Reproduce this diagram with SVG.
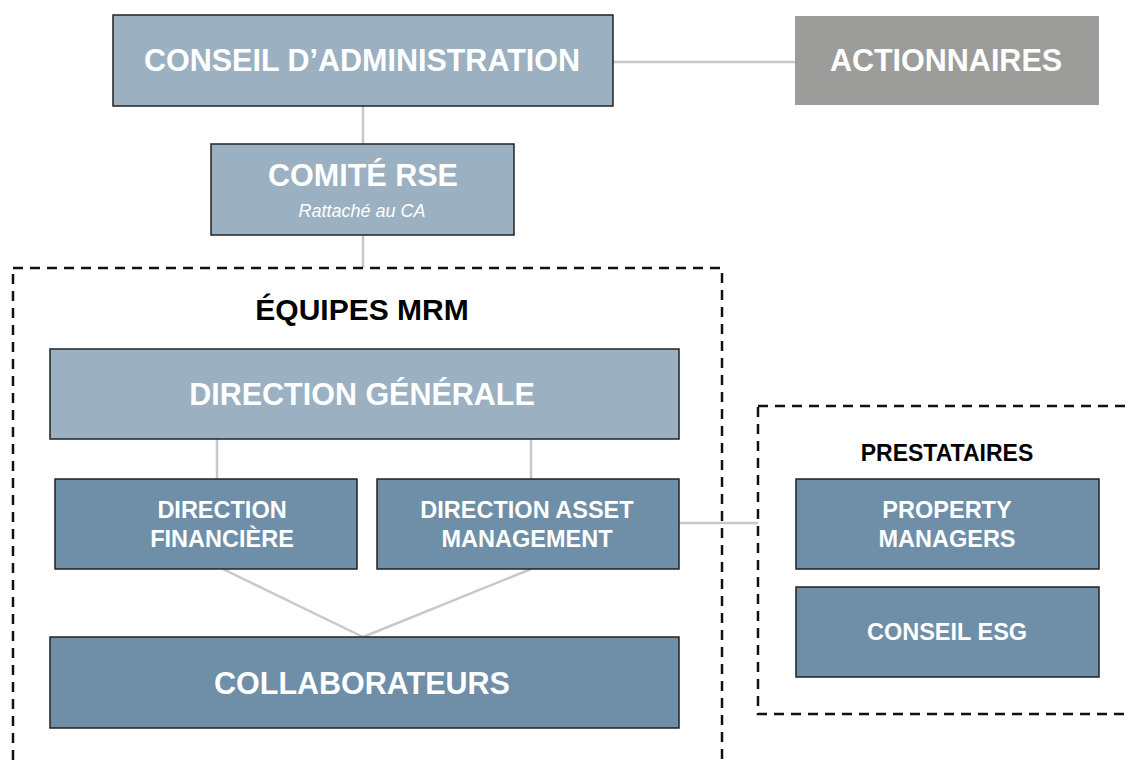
<svg xmlns="http://www.w3.org/2000/svg" width="1129" height="761" viewBox="0 0 1129 761">
<style>
.light{fill:#9bb1c2;stroke:#222;stroke-width:1.5}
.dark{fill:#6e8fa7;stroke:#222;stroke-width:1.5}
.grey{fill:#9c9c9a}
.t{font-family:"Liberation Sans",Arial,sans-serif;font-weight:bold;fill:#fff;text-anchor:middle}
.big{font-size:30.5px}
.mid{font-size:23.5px}
.lbl{font-family:"Liberation Sans",Arial,sans-serif;font-weight:bold;fill:#000;text-anchor:middle}
.sub{font-family:"Liberation Sans",Arial,sans-serif;font-style:italic;font-size:18px;fill:#fff;text-anchor:middle}
.con{stroke:#c8c8c8;stroke-width:2.5;fill:none}
.dash{fill:none;stroke:#111;stroke-width:2.5;stroke-dasharray:10 7}
</style>
<rect width="1129" height="761" fill="#fff"/>
<g id="connectors">
<line class="con" x1="613" y1="62" x2="795" y2="62"/>
<line class="con" x1="363" y1="106" x2="363" y2="144"/>
<line class="con" x1="363" y1="235" x2="363" y2="268"/>
<line class="con" x1="217" y1="439" x2="217" y2="479"/>
<line class="con" x1="531" y1="439" x2="531" y2="479"/>
<line class="con" x1="223" y1="569" x2="363" y2="637"/>
<line class="con" x1="531" y1="569" x2="363" y2="637"/>
<line class="con" x1="679" y1="523" x2="758" y2="523"/>
</g>
<g id="equipes">
<rect class="dash" x="13" y="268" width="709" height="540"/>
<text class="lbl" x="362" y="320" font-size="30">ÉQUIPES MRM</text>
</g>
<g id="prestataires">
<rect class="dash" x="758" y="406" width="420" height="308"/>
<text class="lbl" x="947" y="461" font-size="23">PRESTATAIRES</text>
</g>
<g id="conseil">
<rect class="light" x="113" y="15" width="500" height="91"/>
<text class="t big" x="362" y="71">CONSEIL D’ADMINISTRATION</text>
</g>
<g id="actionnaires">
<rect class="grey" x="795" y="16" width="304" height="89"/>
<text class="t big" x="946" y="71">ACTIONNAIRES</text>
</g>
<g id="comite">
<rect class="light" x="211" y="144" width="303" height="91"/>
<text class="t big" x="363" y="186">COMITÉ RSE</text>
<text class="sub" x="362" y="217">Rattaché au CA</text>
</g>
<g id="dg">
<rect class="light" x="50" y="349" width="629" height="90"/>
<text class="t big" x="362" y="405">DIRECTION GÉNÉRALE</text>
</g>
<g id="df">
<rect class="dark" x="55" y="479" width="302" height="90"/>
<text class="t mid" x="222" y="518">DIRECTION</text>
<text class="t mid" x="222" y="547">FINANCIÈRE</text>
</g>
<g id="dam">
<rect class="dark" x="377" y="479" width="302" height="90"/>
<text class="t mid" x="527" y="518">DIRECTION ASSET</text>
<text class="t mid" x="527" y="547">MANAGEMENT</text>
</g>
<g id="collab">
<rect class="dark" x="50" y="637" width="629" height="91"/>
<text class="t big" x="362" y="694">COLLABORATEURS</text>
</g>
<g id="pm">
<rect class="dark" x="796" y="479" width="303" height="90"/>
<text class="t mid" x="947" y="518">PROPERTY</text>
<text class="t mid" x="947" y="547">MANAGERS</text>
</g>
<g id="esg">
<rect class="dark" x="796" y="587" width="303" height="90"/>
<text class="t mid" x="947" y="640">CONSEIL ESG</text>
</g>
</svg>
